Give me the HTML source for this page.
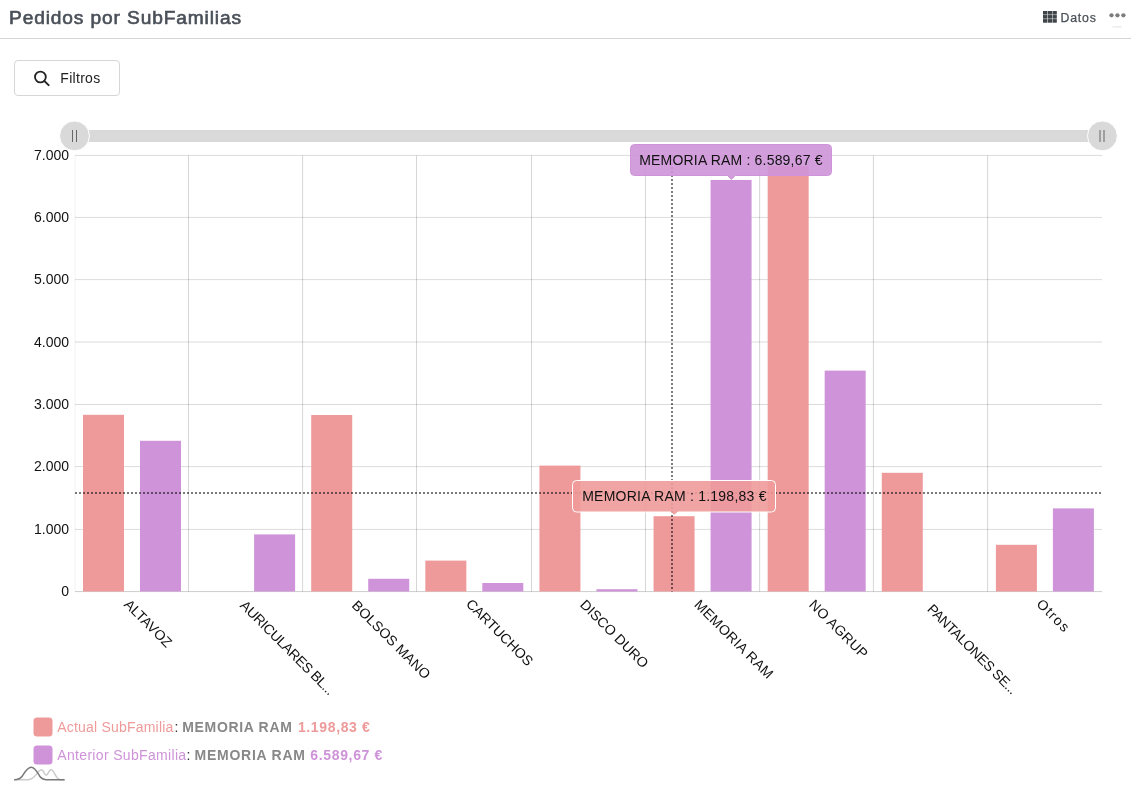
<!DOCTYPE html>
<html lang="es"><head><meta charset="utf-8"><title>Pedidos por SubFamilias</title>
<style>
html,body{margin:0;padding:0;background:#fff;}
body{width:1131px;height:796px;position:relative;overflow:hidden;font-family:"Liberation Sans",sans-serif;}
.hdr{position:absolute;left:0;top:0;width:1131px;height:38px;border-bottom:1px solid #d4d4d4;box-sizing:content-box;}
.title{position:absolute;left:9px;top:7px;font-size:17.5px;font-weight:normal;-webkit-text-stroke:0.6px #4a5058;letter-spacing:0.8px;transform:scaleX(1.094);transform-origin:0 0;color:#4a5058;white-space:nowrap;line-height:22px;}
.datos{position:absolute;left:1060.5px;top:9.6px;font-size:12.3px;letter-spacing:0.8px;-webkit-text-stroke:0.25px #4a5058;color:#4a5058;line-height:16px;}
.gridico{position:absolute;left:1043px;top:11px;}
.dots{position:absolute;left:1109.3px;top:13px;}
.btn{position:absolute;left:14px;top:60px;width:104px;height:34px;border:1px solid #d6d6d6;border-radius:4px;background:#fff;}
.btn span{position:absolute;left:45.3px;top:9px;font-size:14px;letter-spacing:0.3px;color:#222;line-height:16px;}
.btn svg{position:absolute;left:18px;top:8.5px;}
.chart{position:absolute;left:0;top:0;}
</style></head><body>
<svg class="chart" width="1131" height="796" viewBox="0 0 1131 796" font-family="'Liberation Sans', sans-serif">
<rect x="75" y="130" width="1027" height="12" fill="#d9d9d9"/>
<line x1="75.0" x2="1102.0" y1="591.60" y2="591.60" stroke="#000" stroke-opacity="0.2" stroke-width="1"/>
<line x1="75.0" x2="1102.0" y1="529.40" y2="529.40" stroke="#000" stroke-opacity="0.14" stroke-width="1"/>
<line x1="75.0" x2="1102.0" y1="466.60" y2="466.60" stroke="#000" stroke-opacity="0.14" stroke-width="1"/>
<line x1="75.0" x2="1102.0" y1="404.50" y2="404.50" stroke="#000" stroke-opacity="0.14" stroke-width="1"/>
<line x1="75.0" x2="1102.0" y1="342.00" y2="342.00" stroke="#000" stroke-opacity="0.14" stroke-width="1"/>
<line x1="75.0" x2="1102.0" y1="279.60" y2="279.60" stroke="#000" stroke-opacity="0.14" stroke-width="1"/>
<line x1="75.0" x2="1102.0" y1="217.40" y2="217.40" stroke="#000" stroke-opacity="0.14" stroke-width="1"/>
<line x1="75.0" x2="1102.0" y1="155.40" y2="155.40" stroke="#000" stroke-opacity="0.14" stroke-width="1"/>
<line x1="75.00" x2="75.00" y1="155.5" y2="591.5" stroke="#000" stroke-opacity="0.05" stroke-width="1"/>
<line x1="188.50" x2="188.50" y1="155.5" y2="591.5" stroke="#000" stroke-opacity="0.16" stroke-width="1"/>
<line x1="302.60" x2="302.60" y1="155.5" y2="591.5" stroke="#000" stroke-opacity="0.16" stroke-width="1"/>
<line x1="416.50" x2="416.50" y1="155.5" y2="591.5" stroke="#000" stroke-opacity="0.16" stroke-width="1"/>
<line x1="531.50" x2="531.50" y1="155.5" y2="591.5" stroke="#000" stroke-opacity="0.16" stroke-width="1"/>
<line x1="645.50" x2="645.50" y1="155.5" y2="591.5" stroke="#000" stroke-opacity="0.16" stroke-width="1"/>
<line x1="759.60" x2="759.60" y1="155.5" y2="591.5" stroke="#000" stroke-opacity="0.16" stroke-width="1"/>
<line x1="873.40" x2="873.40" y1="155.5" y2="591.5" stroke="#000" stroke-opacity="0.16" stroke-width="1"/>
<line x1="987.60" x2="987.60" y1="155.5" y2="591.5" stroke="#000" stroke-opacity="0.16" stroke-width="1"/>
<rect x="83.00" y="414.8" width="41" height="176.70" fill="#ef9a9a"/>
<rect x="140.00" y="440.8" width="41" height="150.70" fill="#ce93d8"/>
<rect x="254.11" y="534.4" width="41" height="57.10" fill="#ce93d8"/>
<rect x="311.22" y="415.0" width="41" height="176.50" fill="#ef9a9a"/>
<rect x="368.22" y="578.8" width="41" height="12.70" fill="#ce93d8"/>
<rect x="425.33" y="560.6" width="41" height="30.90" fill="#ef9a9a"/>
<rect x="482.33" y="583.0" width="41" height="8.50" fill="#ce93d8"/>
<rect x="539.44" y="465.6" width="41" height="125.90" fill="#ef9a9a"/>
<rect x="596.44" y="589.2" width="41" height="2.30" fill="#ce93d8"/>
<rect x="653.56" y="516.2" width="41" height="75.30" fill="#ef9a9a"/>
<rect x="710.56" y="180.0" width="41" height="411.50" fill="#ce93d8"/>
<rect x="767.67" y="166.0" width="41" height="425.50" fill="#ef9a9a"/>
<rect x="824.67" y="370.6" width="41" height="220.90" fill="#ce93d8"/>
<rect x="881.78" y="472.8" width="41" height="118.70" fill="#ef9a9a"/>
<rect x="995.89" y="544.8" width="41" height="46.70" fill="#ef9a9a"/>
<rect x="1052.89" y="508.4" width="41" height="83.10" fill="#ce93d8"/>
<text x="69" y="596.20" text-anchor="end" font-size="14" fill="#111">0</text>
<text x="69" y="534.00" text-anchor="end" font-size="14" fill="#111">1.000</text>
<text x="69" y="471.20" text-anchor="end" font-size="14" fill="#111">2.000</text>
<text x="69" y="409.10" text-anchor="end" font-size="14" fill="#111">3.000</text>
<text x="69" y="346.60" text-anchor="end" font-size="14" fill="#111">4.000</text>
<text x="69" y="284.20" text-anchor="end" font-size="14" fill="#111">5.000</text>
<text x="69" y="222.00" text-anchor="end" font-size="14" fill="#111">6.000</text>
<text x="69" y="160.00" text-anchor="end" font-size="14" fill="#111">7.000</text>
<text transform="translate(123.34,605.18) rotate(45)" font-size="14" fill="#111" textLength="60.91" lengthAdjust="spacing">ALTAVOZ</text>
<text transform="translate(239.37,606.30) rotate(45)" font-size="14" fill="#111" textLength="126.89" lengthAdjust="spacing">AURICULARES BL...</text>
<text transform="translate(351.08,606.30) rotate(45)" font-size="14" fill="#111" textLength="104.03" lengthAdjust="spacing">BOLSOS MANO</text>
<text transform="translate(465.19,604.70) rotate(45)" font-size="14" fill="#111" textLength="87.86" lengthAdjust="spacing">CARTUCHOS</text>
<text transform="translate(579.30,605.50) rotate(45)" font-size="14" fill="#111" textLength="89.74" lengthAdjust="spacing">DISCO DURO</text>
<text transform="translate(693.41,605.50) rotate(45)" font-size="14" fill="#111" textLength="104.80" lengthAdjust="spacing">MEMORIA RAM</text>
<text transform="translate(808.32,605.50) rotate(45)" font-size="14" fill="#111" textLength="76.17" lengthAdjust="spacing">NO AGRUP</text>
<text transform="translate(926.43,609.90) rotate(45)" font-size="14" fill="#111" textLength="120.64" lengthAdjust="spacing">PANTALONES SE...</text>
<text transform="translate(1035.74,604.70) rotate(45)" font-size="14" fill="#111" textLength="39.61" lengthAdjust="spacing">Otros</text>
<line x1="75" x2="1102.0" y1="493" y2="493" stroke="#000" stroke-opacity="0.52" stroke-width="2" stroke-dasharray="2 2"/>
<line x1="672" x2="672" y1="155" y2="591.5" stroke="#000" stroke-opacity="0.52" stroke-width="2" stroke-dasharray="2 2"/>
<circle cx="74.5" cy="135.9" r="14.9" fill="#d9d9d9" stroke="#fff" stroke-width="1"/>
<line x1="72.5" x2="72.5" y1="130" y2="142" stroke="#666" stroke-width="1"/>
<line x1="76.5" x2="76.5" y1="130" y2="142" stroke="#666" stroke-width="1"/>
<circle cx="1102.4" cy="135.9" r="14.9" fill="#d9d9d9" stroke="#fff" stroke-width="1"/>
<line x1="1100" x2="1100" y1="130" y2="142" stroke="#666" stroke-width="1"/>
<line x1="1104" x2="1104" y1="130" y2="142" stroke="#666" stroke-width="1"/>
<path d="M634.5,144.5 H827.5 Q831.5,144.5 831.5,148.5 V171.5 Q831.5,175.5 827.5,175.5 H735.1999999999999 L731.4,179.5 L727.6,175.5 H634.5 Q630.5,175.5 630.5,171.5 V148.5 Q630.5,144.5 634.5,144.5 Z" fill="#ce93d8" fill-opacity="0.9" stroke="#ce93d8" stroke-width="1"/>
<text id="tip1" x="639.20" y="165" font-size="14" fill="#111" textLength="183.29" lengthAdjust="spacing">MEMORIA RAM : 6.589,67 €</text>
<path d="M576.5,480.5 H771.5 Q775.5,480.5 775.5,484.5 V508.0 Q775.5,512.0 771.5,512.0 H678.0 L674.2,515.3 L670.4000000000001,512.0 H576.5 Q572.5,512.0 572.5,508.0 V484.5 Q572.5,480.5 576.5,480.5 Z" fill="#ef9a9a" fill-opacity="0.9" stroke="#fff" stroke-width="1"/>
<text id="tip2" x="582.20" y="500.6" font-size="14" fill="#111" textLength="184.25" lengthAdjust="spacing">MEMORIA RAM : 1.198,83 €</text>
<rect x="33.5" y="717.5" width="19" height="19" rx="3.5" fill="#ef9a9a"/>
<rect x="33.5" y="745.5" width="19" height="19" rx="3.5" fill="#ce93d8"/>
<text id="l1a" x="57.28" y="732" font-size="14" fill="#ef9a9a" textLength="116.03" lengthAdjust="spacing">Actual SubFamilia</text>
<text id="l1b" x="174.60" y="732" font-size="14" fill="#333" textLength="3.89" lengthAdjust="spacing">:</text>
<text id="l1c" x="182.20" y="732" font-size="14" fill="#888" font-weight="bold" textLength="109.64" lengthAdjust="spacing">MEMORIA RAM</text>
<text id="l1d" x="297.92" y="732" font-size="14" fill="#ef9a9a" font-weight="bold" textLength="71.93" lengthAdjust="spacing">1.198,83 €</text>
<text id="l2a" x="57.28" y="759.6" font-size="14" fill="#ce93d8" textLength="128.86" lengthAdjust="spacing">Anterior SubFamilia</text>
<text id="l2b" x="186.52" y="759.6" font-size="14" fill="#333" textLength="3.89" lengthAdjust="spacing">:</text>
<text id="l2c" x="194.48" y="759.6" font-size="14" fill="#888" font-weight="bold" textLength="110.44" lengthAdjust="spacing">MEMORIA RAM</text>
<text id="l2d" x="310.28" y="759.6" font-size="14" fill="#ce93d8" font-weight="bold" textLength="72.09" lengthAdjust="spacing">6.589,67 €</text>
<path d="M14.2,779.7 L28,779.7 C35.5,779.7 37.8,769.8 41.4,769.8 C43.8,769.8 44.4,775.3 46.2,775.3 C48,775.3 48.6,769.8 51,769.8 C54.6,769.8 55.4,779.7 60.5,779.7 L64.6,779.7" fill="none" stroke="#cbcbcb" stroke-width="1.5"/>
<path d="M14.2,779.7 C18,779.7 20.3,779 22.3,776 C25.3,771.4 27.6,767.3 31.2,767.3 C34.8,767.3 37,771.6 39.6,776 C41.5,779 43.6,779.7 47,779.7 L64.6,779.7" fill="none" stroke="#787878" stroke-width="1.5"/>
</svg>
<div class="hdr">
<div class="title">Pedidos por SubFamilias</div>
<svg class="gridico" width="14" height="12" viewBox="0 0 14 12"><g fill="#3f4449"><rect x="0.00" y="0.00" width="4.3" height="3.6"/><rect x="4.75" y="0.00" width="4.3" height="3.6"/><rect x="9.50" y="0.00" width="4.3" height="3.6"/><rect x="0.00" y="4.05" width="4.3" height="3.6"/><rect x="4.75" y="4.05" width="4.3" height="3.6"/><rect x="9.50" y="4.05" width="4.3" height="3.6"/><rect x="0.00" y="8.10" width="4.3" height="3.6"/><rect x="4.75" y="8.10" width="4.3" height="3.6"/><rect x="9.50" y="8.10" width="4.3" height="3.6"/></g></svg>
<div class="datos">Datos</div>
<svg class="dots" width="18" height="16" viewBox="0 0 18 16"><g fill="#7d7d7d"><circle cx="2.5" cy="2.3" r="2.15"/><circle cx="8.45" cy="2.3" r="2.15"/><circle cx="14.4" cy="2.3" r="2.15"/></g><rect x="3.5" y="13.4" width="9" height="1" fill="#e2e2e2"/></svg>
</div>
<div class="btn"><svg width="17" height="17" viewBox="0 0 17 17"><circle cx="7.4" cy="7" r="5.4" fill="none" stroke="#222" stroke-width="1.8"/><line x1="11.5" y1="11.1" x2="15.6" y2="15.1" stroke="#222" stroke-width="2" stroke-linecap="round"/></svg><span>Filtros</span></div>
</body></html>
